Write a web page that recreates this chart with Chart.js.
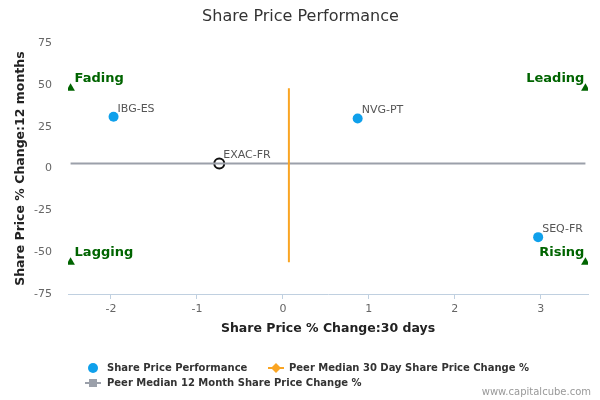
<!DOCTYPE html>
<html>
<head>
<meta charset="utf-8">
<script src="https://cdn.jsdelivr.net/npm/chart.js@4.4.0/dist/chart.umd.min.js"></script>
<style>
  html, body { margin: 0; padding: 0; background: #fff; }
  #wrap { width: 600px; height: 400px; }
</style>
</head>
<body>
<div id="wrap"><canvas id="myChart"></canvas></div>
<script>
const tickers = ['IBG-ES', 'NVG-PT', 'EXAC-FR', 'SEQ-FR'];
const change30d = [-1.97, 0.87, -0.74, 2.97];
const change12m = [31, 30, 3, -41];

const peerMedian30d = 0.07;
const peerMedian12m = 3;
const peer30dSpan = [48, -56];
const peer12mSpan = [-2.47, 3.52];

const quadrants = ['Fading', 'Leading', 'Lagging', 'Rising'];
const quadrantX = [-2.47, 3.52, -2.47, 3.52];
const quadrantY = [48, 48, -56, -56];

const legendLabels = [
    'Share Price Performance',
    'Peer Median 30 Day Share Price Change %',
    'Peer Median 12 Month Share Price Change %'
];

const FONT = "'DejaVu Sans', Verdana, sans-serif";
const BLUE = 'rgb(15,160,235)';
const ORANGE = 'rgb(250,165,35)';
const GREY = 'rgb(155,160,170)';
const GREEN = 'rgb(0,100,0)';

// main company is drawn hollow
const isSelf = tickers.map(t => t === 'EXAC-FR');

const labelPlugin = {
    id: 'labels',
    afterDatasetsDraw(chart) {
        const ctx = chart.ctx;
        ctx.save();
        // point names
        ctx.font = '11px ' + FONT;
        ctx.fillStyle = '#555';
        ctx.textBaseline = 'middle';
        ctx.textAlign = 'left';
        chart.getDatasetMeta(2).data.forEach((p, i) => {
            ctx.fillText(tickers[i], p.x + 4, p.y - 8);
        });
        // quadrant names
        ctx.font = 'bold 13px ' + FONT;
        ctx.fillStyle = GREEN;
        chart.getDatasetMeta(3).data.forEach((p, i) => {
            const right = quadrantX[i] > 0;
            ctx.textAlign = right ? 'right' : 'left';
            ctx.fillText(quadrants[i], right ? p.x - 1 : p.x + 4, p.y - 10);
        });
        ctx.restore();
    },
    afterDraw(chart) {
        const ctx = chart.ctx;
        ctx.save();
        ctx.font = 'bold 10px ' + FONT;
        ctx.textBaseline = 'middle';
        ctx.textAlign = 'left';

        // row 1
        ctx.fillStyle = BLUE;
        ctx.beginPath();
        ctx.arc(93, 368, 5, 0, Math.PI * 2);
        ctx.fill();
        ctx.fillStyle = '#333';
        ctx.fillText(legendLabels[0], 107, 368);

        ctx.strokeStyle = ORANGE;
        ctx.lineWidth = 2;
        ctx.beginPath();
        ctx.moveTo(268, 368);
        ctx.lineTo(284, 368);
        ctx.stroke();
        ctx.fillStyle = ORANGE;
        ctx.beginPath();
        ctx.moveTo(276, 363);
        ctx.lineTo(281, 368);
        ctx.lineTo(276, 373);
        ctx.lineTo(271, 368);
        ctx.closePath();
        ctx.fill();
        ctx.fillStyle = '#333';
        ctx.fillText(legendLabels[1], 289, 368);

        // row 2
        ctx.strokeStyle = GREY;
        ctx.beginPath();
        ctx.moveTo(85, 383);
        ctx.lineTo(101, 383);
        ctx.stroke();
        ctx.fillStyle = GREY;
        ctx.fillRect(89, 379, 8, 8);
        ctx.fillStyle = '#333';
        ctx.fillText(legendLabels[2], 107, 383);

        // credit
        ctx.font = '10px ' + FONT;
        ctx.fillStyle = '#999';
        ctx.textAlign = 'right';
        ctx.fillText('www.capitalcube.com', 591, 392);
        ctx.restore();
    }
};

new Chart('myChart', {
    type: 'scatter',
    data: {
        datasets: [{
            label: legendLabels[1],
            type: 'line',
            data: peer30dSpan.map(y => ({ x: peerMedian30d, y })),
            borderColor: ORANGE,
            borderWidth: 2,
            pointRadius: 0,
            fill: false
        }, {
            label: legendLabels[2],
            type: 'line',
            data: peer12mSpan.map(x => ({ x, y: peerMedian12m })),
            borderColor: GREY,
            borderWidth: 2,
            pointRadius: 0,
            fill: false
        }, {
            label: legendLabels[0],
            data: change30d.map((x, i) => ({ x, y: change12m[i] })),
            backgroundColor: isSelf.map(s => s ? 'rgba(255,255,255,0)' : BLUE),
            borderColor: isSelf.map(s => s ? '#111' : BLUE),
            borderWidth: isSelf.map(s => s ? 2 : 0),
            pointRadius: 5,
            pointHoverRadius: 5
        }, {
            label: 'quadrants',
            data: quadrantX.map((x, i) => ({ x, y: quadrantY[i] })),
            pointStyle: 'triangle',
            backgroundColor: GREEN,
            borderColor: GREEN,
            borderWidth: 0,
            pointRadius: 5
        }]
    },
    options: {
        responsive: true,
        maintainAspectRatio: false,
        animation: false,
        layout: { padding: { left: 13, right: 12, top: 0, bottom: 64 } },
        plugins: {
            legend: { display: false },
            tooltip: { enabled: false },
            title: {
                display: true,
                text: 'Share Price Performance',
                color: '#333',
                font: { family: FONT, size: 16, weight: 'normal' },
                padding: { top: 7, bottom: 17 }
            }
        },
        scales: {
            x: {
                type: 'linear',
                min: -2.5,
                max: 3.55,
                afterFit: s => { s.height = 42; },
                border: { display: true, color: '#c0d0e0', width: 1 },
                grid: { drawOnChartArea: false, color: '#c0d0e0', tickLength: 5 },
                ticks: {
                    stepSize: 1,
                    includeBounds: false,
                    color: '#666',
                    padding: 4,
                    font: { family: FONT, size: 11 }
                },
                title: {
                    display: true,
                    text: 'Share Price % Change:30 days',
                    color: '#222',
                    font: { family: FONT, size: 12.5, weight: 'bold' },
                    padding: { top: 2, bottom: 0 }
                }
            },
            y: {
                min: -75,
                max: 75,
                afterFit: s => { s.width = 55; },
                border: { display: false },
                grid: { display: false },
                ticks: {
                    stepSize: 25,
                    color: '#666',
                    padding: 8,
                    font: { family: FONT, size: 11 }
                },
                title: {
                    display: true,
                    text: 'Share Price % Change:12 months',
                    color: '#222',
                    font: { family: FONT, size: 12.5, weight: 'bold' },
                    padding: 0
                }
            }
        }
    },
    plugins: [labelPlugin]
});
</script>
</body>
</html>
